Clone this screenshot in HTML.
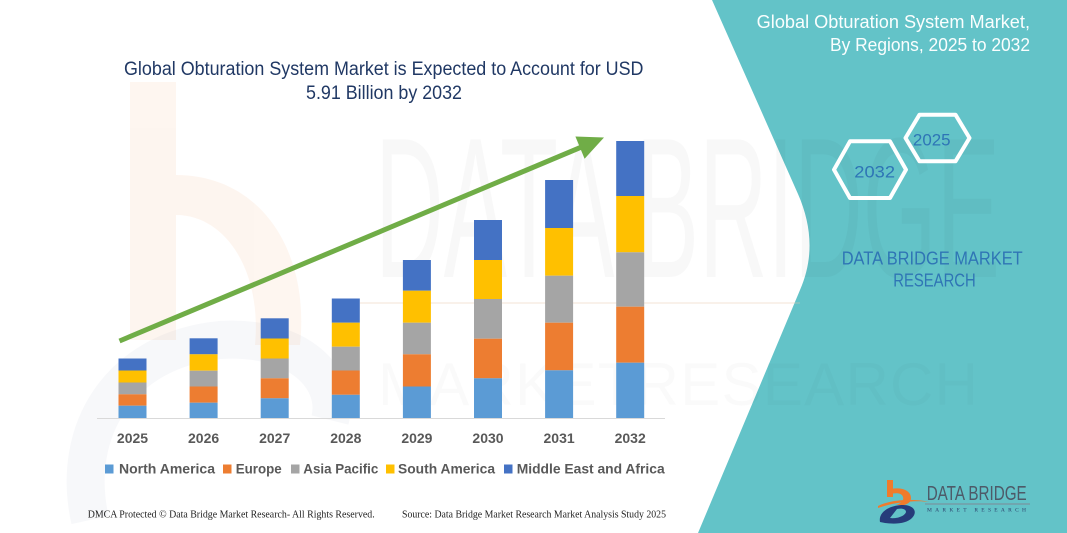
<!DOCTYPE html>
<html><head><meta charset="utf-8"><style>
html,body{margin:0;padding:0;background:#fff;}
svg{display:block;}
text{font-family:"Liberation Sans",sans-serif;}
</style></head><body>
<svg width="1067" height="533" viewBox="0 0 1067 533" xmlns="http://www.w3.org/2000/svg">
<rect x="0" y="0" width="1067" height="533" fill="#fff"/>
<!-- faint watermark logo left -->
<g opacity="0.07">
  <rect x="130" y="82" width="46" height="258" fill="#F07B2C"/>
  <path d="M176,175 C260,175 310,250 300,345 L255,345 C262,270 225,215 176,215 Z" fill="#F07B2C"/>
</g>
<g opacity="0.045">
  <path d="M90,520 C70,430 120,350 220,340 C300,335 340,380 330,420" fill="none" stroke="#3a5a8a" stroke-width="38"/>
</g>
<!-- teal panel -->
<path d="M712,0 L1067,0 L1067,533 L698,533 L800,290 C814,258 812,226 798,194 Z" fill="#63C3C8"/>
<!-- big watermark text -->
<text x="375" y="277" font-size="200" textLength="625" lengthAdjust="spacingAndGlyphs" fill="#000" opacity="0.022">DATA BRIDGE</text>
<line x1="360" y1="303" x2="800" y2="303" stroke="#e8c8b0" stroke-width="2" opacity="0.25"/>
<text x="378" y="405" font-size="60" textLength="600" lengthAdjust="spacing" fill="#000" opacity="0.015">MARKETRESEARCH</text>

<!-- title -->
<text x="124" y="75" font-size="19" fill="#203864" textLength="519.5" lengthAdjust="spacingAndGlyphs">Global Obturation System Market is Expected to Account for USD</text>
<text x="306" y="99" font-size="19" fill="#203864" textLength="156" lengthAdjust="spacingAndGlyphs">5.91 Billion by 2032</text>

<!-- axis -->
<line x1="97" y1="418.5" x2="665" y2="418.5" stroke="#d9d9d9" stroke-width="1"/>

<!-- bars -->
<g>
<rect x="118.5" y="358.5" width="28" height="12" fill="#4472C4"/>
<rect x="118.5" y="370.5" width="28" height="12" fill="#FFC000"/>
<rect x="118.5" y="382.5" width="28" height="11.8" fill="#A5A5A5"/>
<rect x="118.5" y="394.3" width="28" height="11.4" fill="#ED7D31"/>
<rect x="118.5" y="405.7" width="28" height="12.3" fill="#5B9BD5"/>
<rect x="189.6" y="338.3" width="28" height="16" fill="#4472C4"/>
<rect x="189.6" y="354.3" width="28" height="16.4" fill="#FFC000"/>
<rect x="189.6" y="370.7" width="28" height="15.8" fill="#A5A5A5"/>
<rect x="189.6" y="386.5" width="28" height="16.2" fill="#ED7D31"/>
<rect x="189.6" y="402.7" width="28" height="15.3" fill="#5B9BD5"/>
<rect x="260.7" y="318.3" width="28" height="20.2" fill="#4472C4"/>
<rect x="260.7" y="338.5" width="28" height="20" fill="#FFC000"/>
<rect x="260.7" y="358.5" width="28" height="19.8" fill="#A5A5A5"/>
<rect x="260.7" y="378.3" width="28" height="20" fill="#ED7D31"/>
<rect x="260.7" y="398.3" width="28" height="19.7" fill="#5B9BD5"/>
<rect x="331.8" y="298.5" width="28" height="24.2" fill="#4472C4"/>
<rect x="331.8" y="322.7" width="28" height="24" fill="#FFC000"/>
<rect x="331.8" y="346.7" width="28" height="23.8" fill="#A5A5A5"/>
<rect x="331.8" y="370.5" width="28" height="24.3" fill="#ED7D31"/>
<rect x="331.8" y="394.8" width="28" height="23.2" fill="#5B9BD5"/>
<rect x="402.9" y="260" width="28" height="30.7" fill="#4472C4"/>
<rect x="402.9" y="290.7" width="28" height="32" fill="#FFC000"/>
<rect x="402.9" y="322.7" width="28" height="31.6" fill="#A5A5A5"/>
<rect x="402.9" y="354.3" width="28" height="32.2" fill="#ED7D31"/>
<rect x="402.9" y="386.5" width="28" height="31.5" fill="#5B9BD5"/>
<rect x="474" y="220" width="28" height="40" fill="#4472C4"/>
<rect x="474" y="260" width="28" height="39" fill="#FFC000"/>
<rect x="474" y="299" width="28" height="39.7" fill="#A5A5A5"/>
<rect x="474" y="338.7" width="28" height="39.6" fill="#ED7D31"/>
<rect x="474" y="378.3" width="28" height="39.7" fill="#5B9BD5"/>
<rect x="545.1" y="180" width="28" height="48" fill="#4472C4"/>
<rect x="545.1" y="228" width="28" height="47.7" fill="#FFC000"/>
<rect x="545.1" y="275.7" width="28" height="47" fill="#A5A5A5"/>
<rect x="545.1" y="322.7" width="28" height="47.6" fill="#ED7D31"/>
<rect x="545.1" y="370.3" width="28" height="47.7" fill="#5B9BD5"/>
<rect x="616.2" y="141" width="28" height="55" fill="#4472C4"/>
<rect x="616.2" y="196" width="28" height="56.3" fill="#FFC000"/>
<rect x="616.2" y="252.3" width="28" height="54.4" fill="#A5A5A5"/>
<rect x="616.2" y="306.7" width="28" height="56" fill="#ED7D31"/>
<rect x="616.2" y="362.7" width="28" height="55.3" fill="#5B9BD5"/>
</g>

<!-- year labels -->
<g font-size="14" font-weight="bold" fill="#595959" text-anchor="middle">
<text x="132.5" y="443">2025</text>
<text x="203.6" y="443">2026</text>
<text x="274.7" y="443">2027</text>
<text x="345.8" y="443">2028</text>
<text x="416.9" y="443">2029</text>
<text x="488" y="443">2030</text>
<text x="559.1" y="443">2031</text>
<text x="630.2" y="443">2032</text>
</g>

<!-- arrow -->
<line x1="119.5" y1="341" x2="582" y2="146.8" stroke="#70AD47" stroke-width="5"/>
<polygon points="604,137.5 584.6,158.7 575.4,136.5" fill="#70AD47"/>

<!-- legend -->
<g font-size="14" font-weight="bold" fill="#595959">
<rect x="105" y="464.5" width="8.5" height="9" fill="#5B9BD5"/>
<text x="119" y="473.5" textLength="96" lengthAdjust="spacingAndGlyphs">North America</text>
<rect x="223" y="464.5" width="8.5" height="9" fill="#ED7D31"/>
<text x="235.7" y="473.5" textLength="46" lengthAdjust="spacingAndGlyphs">Europe</text>
<rect x="291" y="464.5" width="8.5" height="9" fill="#A5A5A5"/>
<text x="303.3" y="473.5" textLength="75" lengthAdjust="spacingAndGlyphs">Asia Pacific</text>
<rect x="386" y="464.5" width="8.5" height="9" fill="#FFC000"/>
<text x="398" y="473.5" textLength="97" lengthAdjust="spacingAndGlyphs">South America</text>
<rect x="504" y="464.5" width="8.5" height="9" fill="#4472C4"/>
<text x="516.7" y="473.5" textLength="148" lengthAdjust="spacingAndGlyphs">Middle East and Africa</text>
</g>

<!-- footer -->
<g font-size="10.5" fill="#222">
<text x="87.7" y="517.5" style="font-family:'Liberation Serif',serif" textLength="287" lengthAdjust="spacingAndGlyphs">DMCA Protected © Data Bridge Market Research-  All Rights Reserved.</text>
<text x="402" y="517.5" style="font-family:'Liberation Serif',serif" textLength="264" lengthAdjust="spacingAndGlyphs">Source: Data Bridge Market Research  Market Analysis Study 2025</text>
</g>

<!-- right panel title -->
<text x="756.7" y="28" font-size="18" fill="#fafefe" textLength="273.3" lengthAdjust="spacingAndGlyphs">Global Obturation System Market,</text>
<text x="830" y="51" font-size="18" fill="#fafefe" textLength="200" lengthAdjust="spacingAndGlyphs">By Regions, 2025 to 2032</text>

<!-- hexagons -->
<polygon points="905.5,138 919.5,114.7 955.5,114.7 969.5,138 955.5,161.3 919.5,161.3" fill="none" stroke="#fff" stroke-width="4" stroke-linejoin="round"/>
<polygon points="834,169.7 850,141.3 890,141.3 906,169.7 890,198 850,198" fill="none" stroke="#fff" stroke-width="4" stroke-linejoin="round"/>
<text x="912.9" y="145.3" font-size="17" fill="#2E75B6" textLength="37.7" lengthAdjust="spacingAndGlyphs">2025</text>
<text x="854.3" y="177.7" font-size="17" fill="#2E75B6" textLength="40.7" lengthAdjust="spacingAndGlyphs">2032</text>

<text x="841.7" y="264.5" font-size="18" fill="#2F75B5" textLength="181" lengthAdjust="spacingAndGlyphs">DATA BRIDGE MARKET</text>
<text x="893.3" y="286.5" font-size="18" fill="#2F75B5" textLength="82.4" lengthAdjust="spacingAndGlyphs">RESEARCH</text>

<!-- logo -->
<g>
  <rect x="887" y="480" width="6" height="17" fill="#F07B2C"/>
  <path d="M887,490 C900,486 911,490 911,498 C911,502 908,504 904,505 L896,505 C902,503 904,500 903,497 C902,493 896,492 887,495 Z" fill="#F07B2C"/>
  <path d="M878,506 C890,500 910,498 930,502 C915,500 895,502 878,508 Z" fill="#F07B2C"/>
  <path d="M880,522 C878,512 890,505 903,505 C914,505 918,512 912,518 C906,524 893,525 880,522 Z M890,518 C897,519 905,516 906,512 C906,509 902,508 897,509 Z" fill="#263C7A" fill-rule="evenodd"/>
  <text x="926.7" y="500" font-size="20" fill="#4d5a68" textLength="100" lengthAdjust="spacingAndGlyphs">DATA BRIDGE</text>
  <line x1="925" y1="504" x2="1030" y2="504" stroke="#7d8a96" stroke-width="1"/>
  <text x="927" y="511.5" font-size="5.5" fill="#2b3f6b" textLength="99" lengthAdjust="spacing" style="font-family:'Liberation Serif',serif">MARKET   RESEARCH</text>
</g>
</svg>
</body></html>
